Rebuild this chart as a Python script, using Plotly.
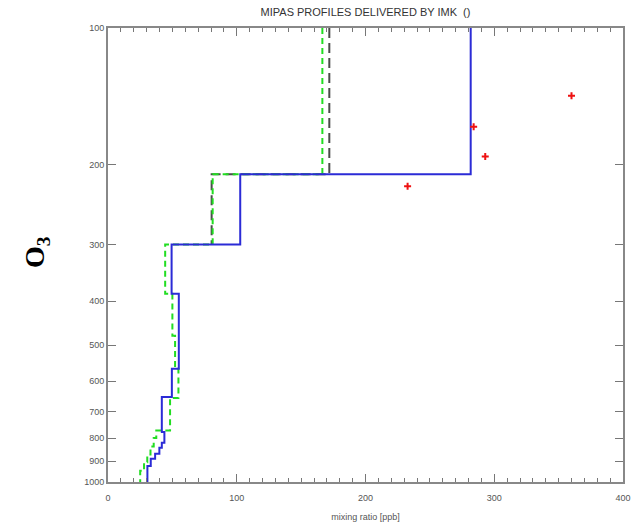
import plotly.graph_objects as go

# Step profiles: pressure at top of each layer [hPa] and mixing ratio [ppb] in that layer
blue_p = [100, 210, 300, 385, 563, 650, 776, 820, 841, 867, 889, 922, 1000]
blue_v = [281.7, 102.7, 49.4, 55.0, 49.6, 41.8, 43.8, 41.8, 39.9, 36.6, 33.2, 30.6]

green_p = [100, 210, 300, 385, 476, 563, 653, 770, 800, 835, 870, 905, 945, 1000]
green_v = [166.5, 81.3, 44.4, 50.0, 52.1, 54.7, 48.2, 37.5, 35.5, 33.0, 30.5, 28.0, 25.0]

black_p = [100, 210, 300]
black_v = [171.9, 80.5]

star_x = [232.7, 284.0, 293.0, 360.0]
star_p = [223, 165, 192, 141]

y_ticks = [100, 200, 300, 400, 500, 600, 700, 800, 900, 1000]
x_ticks = [0, 100, 200, 300, 400]


def step_xy(p, v):
    return list(v) + [v[-1]], list(p)


fig = go.Figure()
bx, by = step_xy(black_p, black_v)
gx, gy = step_xy(green_p, green_v)
ux, uy = step_xy(blue_p, blue_v)
fig.add_trace(go.Scatter(x=bx, y=by, mode="lines", line=dict(shape="vh", color="#4a4a4a", width=2, dash="10px,5px"), showlegend=False))
fig.add_trace(go.Scatter(x=gx, y=gy, mode="lines", line=dict(shape="vh", color="#22dd22", width=2, dash="6px,4px"), showlegend=False))
fig.add_trace(go.Scatter(x=ux, y=uy, mode="lines", line=dict(shape="vh", color="#2b2bd6", width=2), showlegend=False))
fig.add_trace(go.Scatter(x=star_x, y=star_p, mode="markers", marker=dict(symbol="cross-thin", size=5, color="#ee1111", line=dict(width=2, color="#ee1111")), showlegend=False))

axis_font = dict(family="Liberation Sans, Arial, sans-serif", size=9, color="#555")
fig.update_layout(
    width=633, height=527,
    margin=dict(l=108, r=10, t=28, b=45, autoexpand=False),
    paper_bgcolor="white", plot_bgcolor="white",
    title=dict(text="MIPAS PROFILES DELIVERED BY IMK  ()", x=0.5, xref="paper", y=1 - 12 / 527, yanchor="middle",
               font=dict(family="Liberation Sans, Arial, sans-serif", size=11, color="#333")),
    xaxis=dict(range=[0, 400], tickvals=x_ticks, ticks="inside", ticklen=8, tickwidth=1, tickcolor="#777",
               showline=True, linecolor="#888", linewidth=2, mirror="ticks", showgrid=False, zeroline=False,
               tickfont=axis_font, automargin=False, ticklabelstandoff=6,
               minor=dict(dtick=10, ticks="inside", ticklen=4, tickcolor="#777", showgrid=False),
               title=dict(text="mixing ratio [ppb]", font=axis_font, standoff=12)),
    yaxis=dict(type="log", range=[3, 2], tickvals=y_ticks, ticktext=[str(t) for t in y_ticks],
               ticks="inside", ticklen=8, tickwidth=1, tickcolor="#777", automargin=False,
               showline=True, linecolor="#888", linewidth=2, mirror="ticks", showgrid=False, zeroline=False,
               tickfont=axis_font),
    annotations=[dict(text="<b>O<sub>3</sub></b>", xref="paper", yref="paper", x=(37 - 108) / 515, y=(482 - 252) / 454,
                      showarrow=False, textangle=-90, xanchor="center", yanchor="middle",
                      font=dict(family="Liberation Serif, Times New Roman, serif", size=28, color="black"))],
)
fig.write_html("out.html")
